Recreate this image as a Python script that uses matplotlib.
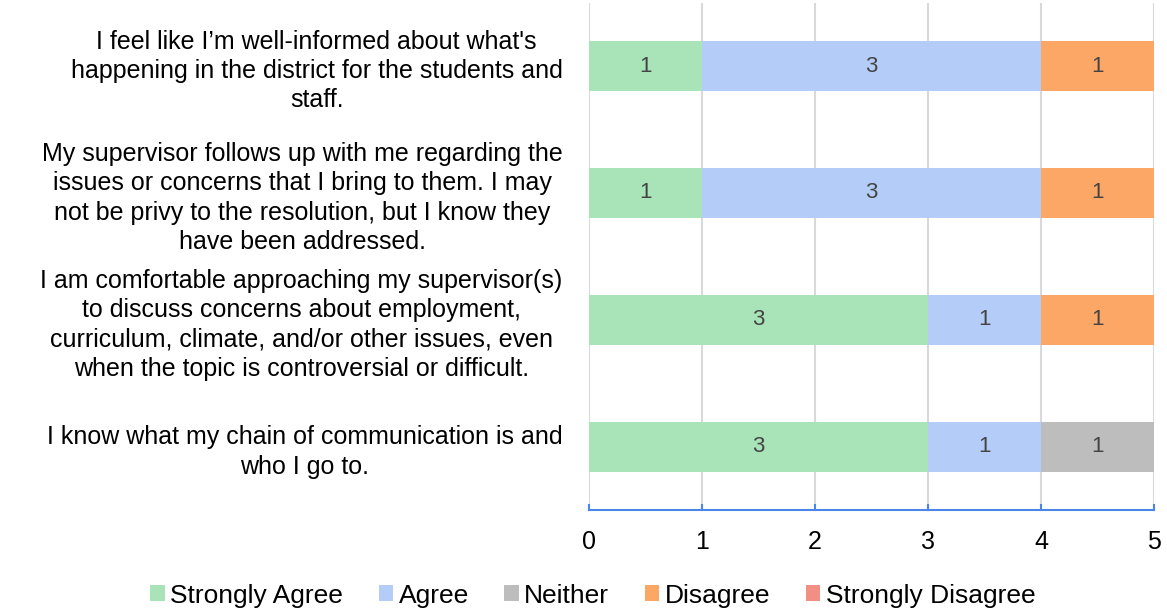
import matplotlib.pyplot as plt
from matplotlib.patches import Patch

plt.rcParams['font.family'] = ['Liberation Sans', 'DejaVu Sans']

questions = [
    "I feel like I\u2019m well-informed about what's\nhappening in the district for the students and\nstaff.",
    "My supervisor follows up with me regarding the\nissues or concerns that I bring to them. I may\nnot be privy to the resolution, but I know they\nhave been addressed.",
    "I am comfortable approaching my supervisor(s)\nto discuss concerns about employment,\ncurriculum, climate, and/or other issues, even\nwhen the topic is controversial or difficult.",
    "I know what my chain of communication is and\nwho I go to.",
]
responses = ["Strongly Agree", "Agree", "Neither", "Disagree", "Strongly Disagree"]
strongly_agree = [1, 1, 3, 3]
agree = [3, 3, 1, 1]
neither = [0, 0, 0, 1]
disagree = [1, 1, 1, 0]
strongly_disagree = [0, 0, 0, 0]

colors = ['#a8e4b8', '#b4cdf8', '#bdbdbd', '#fca765', '#f28f85']
series = [strongly_agree, agree, neither, disagree, strongly_disagree]

fig = plt.figure(figsize=(11.67, 6.11), dpi=100)
ax = fig.add_axes([0.5047, 0.1645, 0.4842, 0.8314])

y = list(range(len(questions)))
left = [0] * len(questions)
for vals, col in zip(series, colors):
    bars = ax.barh(y, vals, left=left, height=0.39, color=col, zorder=3)
    for b, v in zip(bars, vals):
        if v > 0:
            ax.text(b.get_x() + b.get_width() / 2, b.get_y() + b.get_height() / 2,
                    str(v), ha='center', va='center', fontsize=16, color='#444444', zorder=4)
    left = [l + v for l, v in zip(left, vals)]

ax.set_xlim(0, 5)
ax.set_ylim(len(questions) - 0.5, -0.5)
ax.set_xticks(range(6))
ax.tick_params(axis='x', labelsize=18, length=0, pad=14)
ax.grid(axis='x', color='#d9d9d9', linewidth=1.5, zorder=0)

ax.set_yticks(y)
ax.set_yticklabels(questions, fontsize=18)
ax.tick_params(axis='y', length=0, pad=19)
for lab in ax.get_yticklabels():
    lab.set_multialignment('center')
    lab.set_linespacing(1.27)

for s in ['top', 'right', 'left']:
    ax.spines[s].set_visible(False)
ax.spines['bottom'].set_color('#4a86e8')
ax.spines['bottom'].set_linewidth(1.5)
for xv in range(6):
    ax.plot([xv, xv], [len(questions) - 0.5, len(questions) - 0.5 - 0.04],
            color='#4a86e8', linewidth=1.5, clip_on=False, zorder=5)

handles = [Patch(facecolor=c, edgecolor='none') for c in colors]
fig.legend(handles, responses, loc='center', bbox_to_anchor=(0.508, 0.025), ncol=5,
           frameon=False, fontsize=19, handlelength=0.55, handleheight=0.55,
           handletextpad=0.2, columnspacing=1.35)

fig.savefig('out.png', dpi=100)
